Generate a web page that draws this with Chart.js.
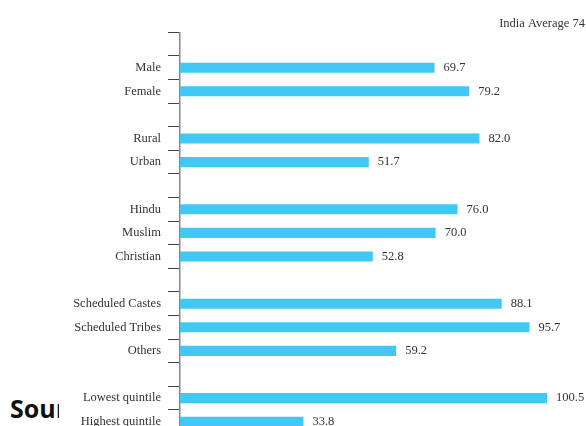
<!DOCTYPE html>
<html>
<head>
<meta charset="utf-8">
<script src="https://cdn.jsdelivr.net/npm/chart.js@4/dist/chart.umd.min.js"></script>
<style>
    html, body { margin: 0; padding: 0; background: #fff; overflow: hidden; height: 426px; }
    #wrap { position: relative; width: 586px; height: 426px; overflow: hidden; }
    #chart { display: block; position: absolute; left: 0; top: 0; }
    #src {
        position: absolute; left: 10px; top: 391px; width: 49px; overflow: hidden;
        font: bold 25px "Open Sans", sans-serif; color: #111; white-space: nowrap;
    }
</style>
</head>
<body>
<div id="wrap">
    <div id="src">Source</div>
    <canvas id="chart" width="586" height="448"></canvas>
</div>
<script>
/* ============================================================
   DATOS
============================================================ */
const categorias = [
    "", "Male", "Female",
    "", "Rural", "Urban",
    "", "Hindu", "Muslim", "Christian",
    "", "Scheduled Castes", "Scheduled Tribes", "Others",
    "", "Lowest quintile", "Highest quintile"
];
const valores = [
    null, 69.7, 79.2,
    null, 82.0, 51.7,
    null, 76.0, 70.0, 52.8,
    null, 88.1, 95.7, 59.2,
    null, 100.5, 33.8
];
const promedioTexto = "India Average 74";

const FUENTE = '"Liberation Serif", "DejaVu Serif", serif';

/* ============================================================
   PLUGIN: valores al final de cada barra + promedio
============================================================ */
const etiquetas = {
    id: "etiquetas",
    afterDatasetsDraw(chart) {
        const ctx = chart.ctx;
        const meta = chart.getDatasetMeta(0);
        ctx.save();
        ctx.font = "12.5px " + FUENTE;
        ctx.fillStyle = "#333";
        ctx.textBaseline = "middle";
        ctx.textAlign = "left";
        meta.data.forEach((bar, i) => {
            const v = valores[i];
            if (v === null) return;
            ctx.fillText(v.toFixed(1), bar.x + 9, bar.y);
        });
        ctx.textAlign = "right";
        ctx.fillText(promedioTexto, 585, 24);
        ctx.restore();
    }
};

new Chart(document.getElementById("chart"), {
    type: "bar",
    data: {
        labels: categorias,
        datasets: [{
            data: valores,
            backgroundColor: "rgb(66, 200, 244)",
            borderWidth: 0,
            categoryPercentage: 1,
            barPercentage: 0.43
        }]
    },
    options: {
        indexAxis: "y",
        responsive: false,
        animation: false,
        layout: { padding: { top: 32.3, bottom: 7.5, right: 4.3, left: 0 } },
        plugins: {
            legend: { display: false },
            tooltip: { enabled: false }
        },
        scales: {
            x: { display: false, min: 0, max: 110 },
            y: {
                afterFit: (s) => { s.width = 180; },
                border: { display: true, color: "#888", width: 1.5 },
                grid: {
                    offset: true,
                    drawOnChartArea: false,
                    drawTicks: true,
                    tickLength: 12,
                    color: "#444",
                    lineWidth: 1
                },
                ticks: {
                    autoSkip: false,
                    padding: 7,
                    color: "#333",
                    font: { family: FUENTE, size: 12.5 }
                }
            }
        }
    },
    plugins: [etiquetas]
});
</script>
</body>
</html>
